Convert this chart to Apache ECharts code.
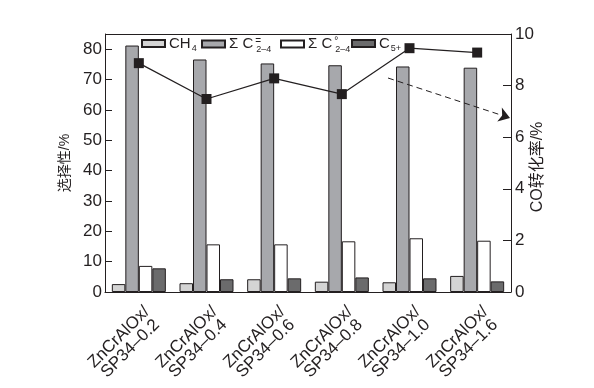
<!DOCTYPE html>
<html>
<head>
<meta charset="utf-8">
<script src="https://cdn.jsdelivr.net/npm/echarts@6/dist/echarts.min.js"></script>
<style>html,body{margin:0;padding:0;background:#fff;}#c{width:594px;height:388px;}</style>
</head>
<body>
<div id="c"></div>
<script>
const categories = ['ZnCrAlOx/\nSP34–0.2','ZnCrAlOx/\nSP34–0.4','ZnCrAlOx/\nSP34–0.6','ZnCrAlOx/\nSP34–0.8','ZnCrAlOx/\nSP34–1.0','ZnCrAlOx/\nSP34–1.6'];
const ch4 = [2.6, 2.9, 4.2, 3.4, 3.2, 5.3];
const olefins = [81.2, 76.6, 75.3, 74.7, 74.3, 73.9];
const paraffins = [8.6, 15.7, 15.7, 16.7, 17.7, 16.9];
const c5plus = [7.8, 4.2, 4.5, 4.8, 4.5, 3.5];
const coConversion = [8.87, 7.48, 8.28, 7.67, 9.45, 9.28];
const leftTicks = [0, 80, 10];
const rightTicks = [0, 10, 2];

const FONT = '"Liberation Sans", "Noto Sans CJK SC", sans-serif';
const INK = '#231f20';
const chart = echarts.init(document.getElementById('c'));
const barBase = {type: 'bar', yAxisIndex: 0, barWidth: 13.5, barGap: '0%',
  itemStyle: {borderColor: INK, borderWidth: 1}};
const rich = {
  n: {fontSize: 15, fontFamily: FONT, color: INK},
  sub: {fontSize: 9, fontFamily: FONT, color: INK, padding: [11, 0, 0, 1]},
  sup: {fontSize: 10, fontFamily: FONT, color: INK, padding: [0, 0, 6, 2], width: 0}
};
const legendNames = {
  'CH4': '{n|CH}{sub|4}',
  'SO': '{n|Σ C}{sup|=}{sub|2–4}',
  'SP': '{n|Σ C}{sup|°}{sub|2–4}',
  'C5': '{n|C}{sub|5+}'
};
const legendLeft = {'CH4': 141, 'SO': 201, 'SP': 280, 'C5': 351};
const legends = Object.keys(legendNames).map(k => ({
  data: [k], left: legendLeft[k], top: 36, itemWidth: 23, itemHeight: 7, itemGap: 0,
  icon: 'rect', padding: 0,
  formatter: n => legendNames[n],
  textStyle: {rich: rich, padding: [0, 0, 0, -1]}
}));
const tickFont = {fontSize: 17, fontFamily: FONT, color: INK};
chart.setOption({
  animation: false,
  backgroundColor: '#fff',
  grid: {left: 105, right: 83, top: 34, bottom: 96},
  legend: legends,
  xAxis: {
    type: 'category', data: categories,
    axisLine: {lineStyle: {color: INK, width: 1}},
    axisTick: {show: false},
    axisLabel: Object.assign({rotate: 45, lineHeight: 16, margin: 0, interval: 0,
      align: 'center', verticalAlign: 'top', padding: [10, 92, 0, 0]}, tickFont)
  },
  yAxis: [{
    type: 'value', min: leftTicks[0], max: 85, interval: leftTicks[2],
    name: '选择性/%', nameLocation: 'middle', nameGap: 33, nameRotate: 90, nameMoveOverlap: false,
    nameTextStyle: {fontSize: 14, fontFamily: FONT, color: INK},
    axisLine: {show: true, lineStyle: {color: INK}},
    axisTick: {show: true, inside: true, length: 7, lineStyle: {color: INK}},
    axisLabel: Object.assign({margin: 3, showMaxLabel: false}, tickFont),
    splitLine: {show: false}
  }, {
    type: 'value', min: rightTicks[0], max: rightTicks[1], interval: rightTicks[2],
    position: 'right',
    name: 'CO转化率/%', nameLocation: 'middle', nameGap: 19, nameRotate: 90, nameMoveOverlap: false,
    nameTextStyle: {fontSize: 16, fontFamily: FONT, color: INK, padding: [0, 0, 0, -8]},
    axisLine: {show: true, lineStyle: {color: INK}},
    axisTick: {show: true, inside: true, length: 8, lineStyle: {color: INK}},
    axisLabel: Object.assign({margin: 4}, tickFont),
    splitLine: {show: false}
  }],
  series: [
    Object.assign({}, barBase, {name: 'CH4', data: ch4, itemStyle: Object.assign({}, barBase.itemStyle, {color: '#d4d4d4'})}),
    Object.assign({}, barBase, {name: 'SO', data: olefins, itemStyle: Object.assign({}, barBase.itemStyle, {color: '#a7a8ac'})}),
    Object.assign({}, barBase, {name: 'SP', data: paraffins, itemStyle: Object.assign({}, barBase.itemStyle, {color: '#ffffff'})}),
    Object.assign({}, barBase, {name: 'C5', data: c5plus, itemStyle: Object.assign({}, barBase.itemStyle, {color: '#6b6b6c'})}),
    {
      name: 'CO', type: 'line', yAxisIndex: 1, data: coConversion,
      symbol: 'rect', symbolSize: 10, clip: false,
      lineStyle: {color: INK, width: 1.2},
      itemStyle: {color: INK},
      z: 5,
      markLine: {
        silent: true, symbol: ['none', 'arrow'], symbolSize: 11,
        lineStyle: {type: [6, 4], color: INK, width: 1},
        itemStyle: {color: INK},
        label: {show: false},
        data: [[{x: 388, y: 78}, {x: 510, y: 118}]]
      }
    }
  ],
  graphic: [{type: 'line', shape: {x1: 105, y1: 34.5, x2: 511, y2: 34.5}, style: {stroke: INK, lineWidth: 1}, z: 10}]
});
</script>
</body>
</html>
